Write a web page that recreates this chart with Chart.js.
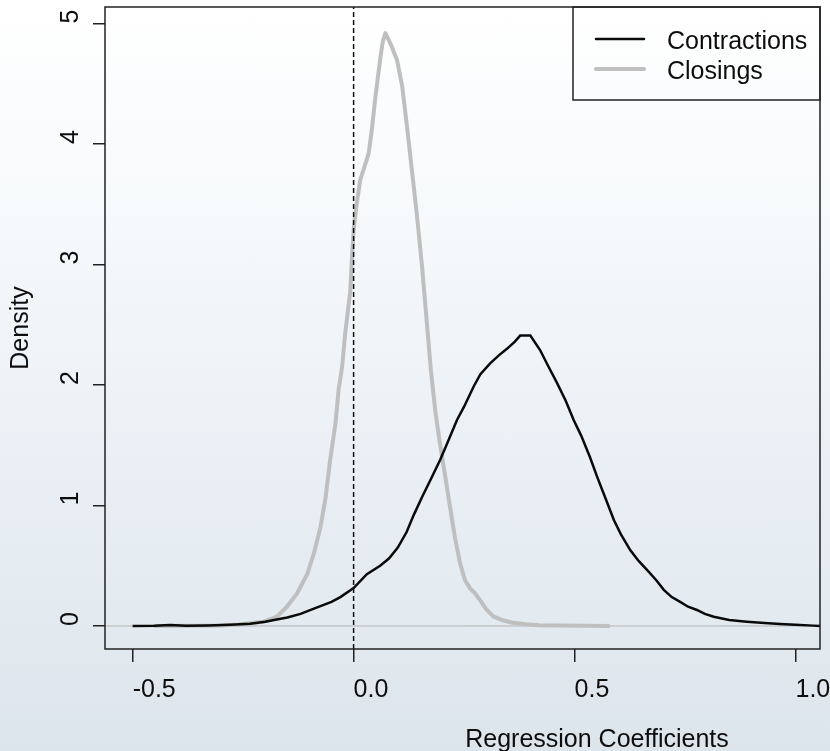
<!DOCTYPE html>
<html>
<head>
<meta charset="utf-8">
<script src="https://cdn.jsdelivr.net/npm/chart.js@4.4.1/dist/chart.umd.min.js"></script>
<style>
  html, body { margin: 0; padding: 0; }
  body {
    width: 830px;
    height: 751px;
    overflow: hidden;
    background: linear-gradient(to bottom, #ffffff 0%, #f6f9fb 30%, #eaf0f5 60%, #dde5ec 100%);
  }
  #wrap { position: relative; width: 830px; height: 751px; }
</style>
</head>
<body>
<div id="wrap"><canvas id="densityChart"></canvas></div>
<script>
// density curves
const contractionX = [-0.5, -0.45, -0.415, -0.38, -0.33, -0.28, -0.234, -0.2, -0.18, -0.15, -0.12, -0.1, -0.075, -0.05, -0.03, 0,
  0.03, 0.06, 0.08, 0.1, 0.12, 0.136, 0.155, 0.175, 0.196, 0.21, 0.234, 0.25, 0.272, 0.287, 0.309, 0.33, 0.347, 0.365, 0.377,
  0.4, 0.422, 0.44, 0.46, 0.48, 0.498, 0.515, 0.535, 0.551, 0.57, 0.589, 0.605, 0.626, 0.645, 0.664, 0.685, 0.702, 0.72,
  0.739, 0.757, 0.777, 0.795, 0.815, 0.85, 0.89, 0.93, 0.965, 1.0, 1.04, 1.06]
const contractionY = [0, 0.002, 0.008, 0.002, 0.005, 0.01, 0.018, 0.035, 0.05, 0.07, 0.1, 0.13, 0.165, 0.2, 0.24, 0.315,
  0.43, 0.5, 0.56, 0.65, 0.78, 0.92, 1.07, 1.22, 1.38, 1.5, 1.71, 1.82, 1.99, 2.09, 2.18, 2.25, 2.3, 2.36, 2.41,
  2.41, 2.29, 2.16, 2.02, 1.87, 1.71, 1.58, 1.4, 1.24, 1.06, 0.88, 0.76, 0.63, 0.54, 0.465, 0.38, 0.3, 0.24,
  0.2, 0.16, 0.133, 0.1, 0.077, 0.05, 0.036, 0.025, 0.017, 0.01, 0.003, 0]

const closingX = [-0.45, -0.35, -0.3, -0.26, -0.234, -0.204, -0.185, -0.173, -0.151, -0.128, -0.105, -0.09, -0.075, -0.064,
  -0.053, -0.041, -0.034, -0.026, -0.019, -0.0075, -0.004, 0, 0.006, 0.015, 0.034, 0.042, 0.049, 0.06, 0.066, 0.072, 0.085, 0.098,
  0.11, 0.121, 0.132, 0.143, 0.155, 0.165, 0.175, 0.185, 0.196, 0.207, 0.219, 0.23, 0.241, 0.252, 0.264, 0.275, 0.287, 0.3,
  0.316, 0.335, 0.36, 0.39, 0.42, 0.47, 0.52, 0.577]
const closingY = [0, 0.002, 0.005, 0.012, 0.022, 0.036, 0.06, 0.08, 0.16, 0.27, 0.43, 0.6, 0.82, 1.05,
  1.38, 1.68, 1.96, 2.15, 2.43, 2.78, 3.04, 3.28, 3.48, 3.7, 3.92, 4.14, 4.38, 4.7, 4.85, 4.92, 4.82, 4.7,
  4.48, 4.14, 3.78, 3.42, 2.98, 2.55, 2.12, 1.78, 1.5, 1.25, 0.97, 0.72, 0.52, 0.38, 0.31, 0.27, 0.21, 0.14,
  0.08, 0.05, 0.027, 0.015, 0.007, 0.003, 0.001, 0]

const seriesNames = ['Contractions', 'Closings']
const xTicks = [-0.5, 0, 0.5, 1.0]
const xTickLabels = ['-0.5', '0.0', '0.5', '1.0']
const yTicks = [0, 1, 2, 3, 4, 5]
const yTickLabels = ['0', '1', '2', '3', '4', '5']

// axis limits
const xMin = -0.5626, xMax = 1.0555
const yMin = -0.191, yMax = 5.137

const toPoints = (xs, ys) => xs.map((x, i) => ({ x: x, y: ys[i] }))

Chart.defaults.font.family = "'Liberation Sans', Arial, sans-serif"
Chart.defaults.font.size = 25
Chart.defaults.color = '#0d0d0d'

// frame, legend and x title drawn like R's base graphics
const rStyle = {
  id: 'rStyle',
  afterDatasetsDraw(chart) {
    const ctx = chart.ctx
    const ca = chart.chartArea
    ctx.save()
    ctx.strokeStyle = '#222'
    ctx.lineWidth = 1.5
    ctx.strokeRect(ca.left, ca.top, ca.right - ca.left, ca.bottom - ca.top)

    // legend box in the top right corner
    const bw = 247, bh = 93
    const bx = ca.right - bw, by = ca.top
    ctx.strokeRect(bx, by, bw, bh)
    seriesNames.forEach((name, i) => {
      const ds = chart.data.datasets.find(d => d.label === name)
      const ly = by + 32 + 30 * i
      ctx.beginPath()
      ctx.lineCap = 'round'
      ctx.strokeStyle = ds.borderColor
      ctx.lineWidth = ds.borderWidth
      ctx.moveTo(bx + 23, ly)
      ctx.lineTo(bx + 71, ly)
      ctx.stroke()
      ctx.fillStyle = '#0d0d0d'
      ctx.font = "25px 'Liberation Sans', Arial, sans-serif"
      ctx.textAlign = 'left'
      ctx.textBaseline = 'middle'
      ctx.fillText(name, bx + 94, ly + 3)
    })

    ctx.fillStyle = '#0d0d0d'
    ctx.font = "25px 'Liberation Sans', Arial, sans-serif"
    ctx.textAlign = 'center'
    ctx.textBaseline = 'middle'
    ctx.fillText('Regression Coefficients', 597, 740)
    ctx.restore()
  }
}

const ctx = document.getElementById('densityChart').getContext('2d')
const densityChart = new Chart(ctx, {
  type: 'scatter',
  data: {
    datasets: [
      {
        label: 'zero line',
        data: [{ x: 0, y: yMin }, { x: 0, y: yMax }],
        showLine: true,
        borderColor: '#111',
        borderWidth: 1.5,
        borderDash: [5, 3],
        pointRadius: 0
      },
      {
        label: seriesNames[0],
        data: toPoints(contractionX, contractionY),
        showLine: true,
        borderColor: '#0a0a0a',
        borderWidth: 2.5,
        pointRadius: 0,
        tension: 0
      },
      {
        label: seriesNames[1],
        data: toPoints(closingX, closingY),
        showLine: true,
        borderColor: '#bfbfbf',
        borderWidth: 4,
        borderCapStyle: 'round',
        borderJoinStyle: 'round',
        pointRadius: 0,
        tension: 0
      },
      {
        label: 'baseline',
        data: [{ x: xMin, y: 0 }, { x: xMax, y: 0 }],
        showLine: true,
        borderColor: '#b5b5b5',
        borderWidth: 1,
        pointRadius: 0
      }
    ]
  },
  options: {
    responsive: true,
    maintainAspectRatio: false,
    animation: false,
    events: [],
    layout: { padding: { left: 0, right: 10, top: 7, bottom: 0 } },
    plugins: {
      legend: { display: false },
      tooltip: { enabled: false }
    },
    scales: {
      x: {
        type: 'linear',
        min: xMin,
        max: xMax,
        afterBuildTicks: (scale) => { scale.ticks = xTicks.map(v => ({ value: v })) },
        afterFit: (scale) => {
          scale.height = 102
          scale.paddingLeft = 0
          scale.paddingRight = 0
        },
        ticks: {
          align: 'start',
          padding: 13,
          maxRotation: 0,
          autoSkip: false,
          callback: (value, index) => xTickLabels[index]
        },
        grid: { drawOnChartArea: false, drawTicks: true, tickLength: 13, color: '#222', lineWidth: 1.5 },
        border: { display: false }
      },
      y: {
        type: 'linear',
        min: yMin,
        max: yMax,
        afterBuildTicks: (scale) => { scale.ticks = yTicks.map(v => ({ value: v })) },
        afterFit: (scale) => {
          scale.width = 105
          scale.paddingTop = 0
          scale.paddingBottom = 0
        },
        ticks: {
          minRotation: 90,
          maxRotation: 90,
          mirror: true,
          crossAlign: 'near',
          padding: -34,
          autoSkip: false,
          callback: (value, index) => yTickLabels[index]
        },
        grid: { drawOnChartArea: false, drawTicks: true, tickLength: 12, color: '#222', lineWidth: 1.5 },
        border: { display: false },
        title: {
          display: true,
          text: 'Density',
          padding: { top: 6, bottom: 0 }
        }
      }
    }
  },
  plugins: [rStyle]
})
</script>
</body>
</html>
